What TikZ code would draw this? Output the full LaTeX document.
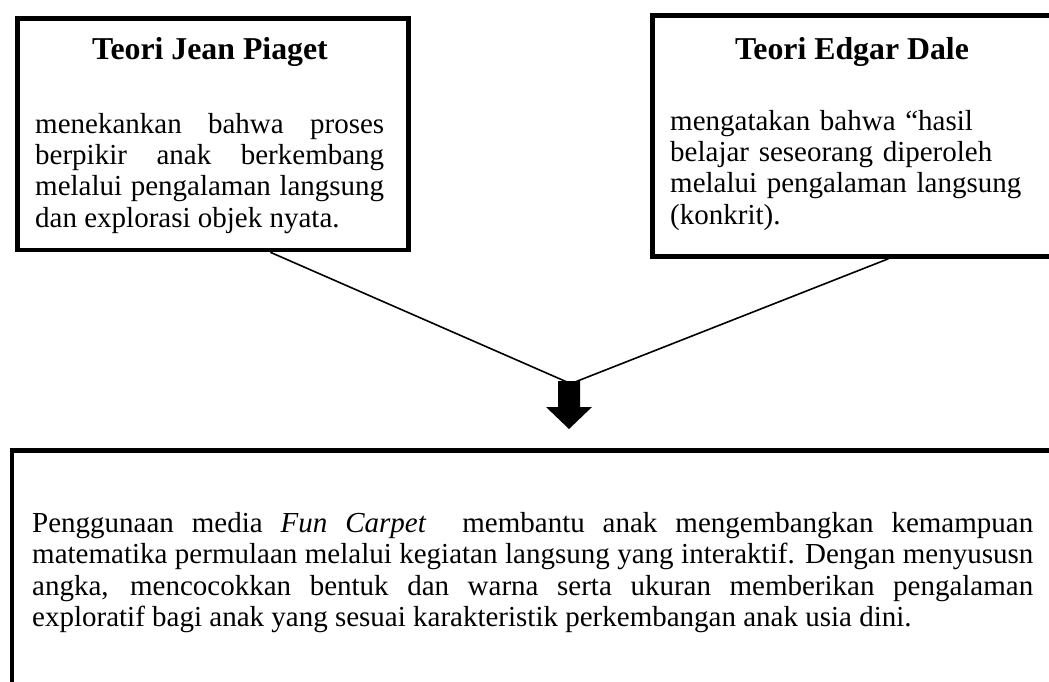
\documentclass[tikz,border=0pt]{standalone}
\usepackage{fontspec}
\setmainfont{Liberation Serif}
\usetikzlibrary{calc}
\begin{document}
\begin{tikzpicture}[x=1pt,y=-1pt,
  box/.style={draw=black, line width=4.8pt, inner sep=0pt, anchor=north west},
  titletext/.style={font=\fontsize{31.8}{36}\selectfont\bfseries, anchor=base, inner sep=0pt},
  bodytext/.style={font=\fontsize{29}{31}\selectfont, anchor=base west, inner sep=0pt},
  link/.style={line width=1.6pt},
  blockarrow/.style={fill=black, draw=none},
]
\useasboundingbox (0,0) rectangle (1049,682);
\clip (0,0) rectangle (1049,682);
\fill[white] (0,0) rectangle (1049,682);

% boxes
\node[box, minimum width=391.5pt, minimum height=231pt] (b1) at (14.8,16.5) {};
\node[box, minimum width=420pt, minimum height=241pt] (b2) at (650,13) {};
\node[box, minimum width=1060pt, minimum height=280pt] (b3) at (9.5,448) {};

% texts
\node[titletext] (t1) at (210,60) {Teori Jean Piaget};
\node[bodytext, text width=349pt, align=justify] (p1) at (35,134)
  {\hyphenpenalty=10000 menekankan bahwa proses\linebreak berpikir anak berkembang\linebreak melalui pengalaman langsung\linebreak dan explorasi objek nyata.};

\node[titletext] (t2) at (852,60) {Teori Edgar Dale};
\node[bodytext, text width=375pt, align=left] (p2) at (670,131)
  {mengatakan bahwa “hasil\\ belajar seseorang diperoleh\\ melalui pengalaman langsung\\ (konkrit).};

\node[bodytext, text width=1001pt, align=justify,
      font=\fontsize{29}{31.5}\selectfont] (p3) at (32,532)
  {\hyphenpenalty=10000 Penggunaan media \textit{Fun Carpet}\ \ membantu anak mengembangkan kemampuan\linebreak matematika permulaan melalui kegiatan langsung yang interaktif. Dengan menyususn\linebreak angka, mencocokkan bentuk dan warna serta ukuran memberikan pengalaman\linebreak exploratif bagi anak yang sesuai karakteristik perkembangan anak usia dini.};

% block arrow
\coordinate (arrtop) at (569,382);
\fill[blockarrow] ($(arrtop)+(-11,-1)$) -- ++(22,0) -- ++(0,26) -- ++(12,0)
  -- ($(arrtop)+(0,47)$) -- ($(arrtop)+(-23,25)$) -- ++(12,0) -- cycle;

% connectors
\draw[link] ($(b1.south west)!0.645!(b1.south east)$) -- ($(arrtop)+(-2,0)$);
\draw[link] ($(b2.south west)!0.561!(b2.south east)$) -- ($(arrtop)+(6,0)$);
\end{tikzpicture}
\end{document}
